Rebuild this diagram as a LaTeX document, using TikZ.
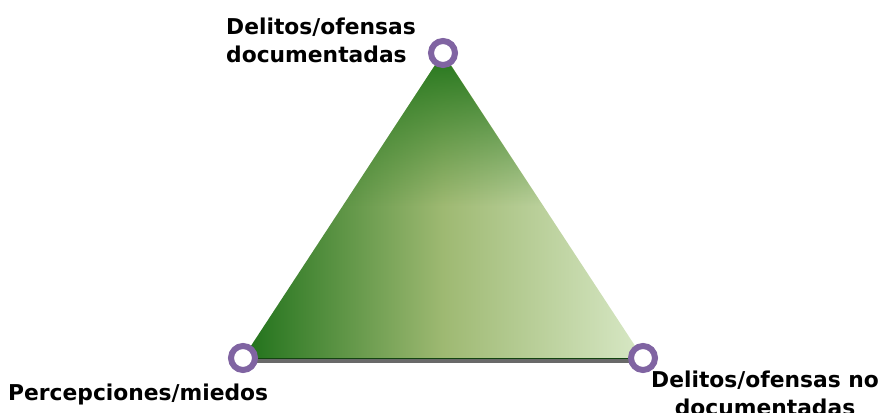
\documentclass[tikz,border=0pt]{standalone}
\usepackage{fontspec}
\setmainfont{DejaVu Sans}
\usetikzlibrary{positioning, fadings}
\definecolor{ringpurple}{RGB}{128,100,162}
\definecolor{darkleaf}{RGB}{31,113,26}
\definecolor{apexleaf}{RGB}{36,118,28}
\definecolor{midleaf}{RGB}{158,185,114}
\definecolor{paleleaf}{RGB}{216,232,198}
\definecolor{baseshadow}{RGB}{105,105,105}
\tikzfading[name=apexfade, top color=transparent!0, bottom color=transparent!100, middle color=transparent!100]
\tikzset{
    corner/.style={circle, draw=ringpurple, fill=white, line width=6pt, minimum size=24pt, inner sep=0pt},
    lbl/.style={font=\fontsize{21.8}{28}\selectfont\bfseries, inner sep=0pt},
}

\begin{document}
\begin{tikzpicture}[x=1pt, y=1pt]
    \useasboundingbox (0,0) rectangle (882,412);

    \coordinate (a) at (443,359);
    \coordinate (b) at (243,54);
    \coordinate (c) at (643,54);

    % triangle body
    \shade[left color=darkleaf, right color=paleleaf, middle color=midleaf] (a) -- (b) -- (c) -- cycle;
    \fill[apexleaf, path fading=apexfade] (a) -- (b) -- (c) -- cycle;
    \draw[baseshadow, line width=4pt] ([xshift=5pt,yshift=-3pt]b) -- ([xshift=-5pt,yshift=-3pt]c);
    \draw[darkleaf!60!black, line width=0.8pt] (b) -- (c);

    \node[corner] (doc) at (a) {};
    \node[corner] (perc) at (b) {};
    \node[corner] (nodoc) at (c) {};

    \node[lbl, align=left, anchor=base west] (doclbl) at (226,349) {Delitos/ofensas\\documentadas};
    \node[lbl, anchor=base west] (perclbl) at (8,12) {Percepciones/miedos};
    \node[lbl, align=center, anchor=base] (nodoclbl) at (765,-3) {Delitos/ofensas no\\documentadas};
\end{tikzpicture}
\end{document}
